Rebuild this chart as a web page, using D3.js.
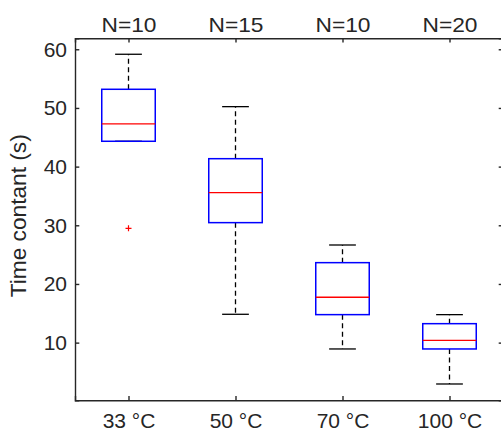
<!DOCTYPE html>
<html>
<head>
<meta charset="utf-8">
<script src="https://cdn.jsdelivr.net/npm/d3@7"></script>
<style>
	body { margin: 0; background: #fff; }
	text { font-family: Arial, "Liberation Sans", sans-serif; fill: #262626; }
</style>
</head>
<body>
<div id="viz-container"></div>
<script>
var categories = ['33 °C', '50 °C', '70 °C', '100 °C'],
	counts = [10, 15, 10, 20],
	whiskerLow = [44.32, 14.83, 8.92, 2.95],
	q1 = [44.32, 30.45, 14.77, 8.92],
	medians = [47.27, 35.56, 17.73, 10.40],
	q3 = [53.18, 41.35, 23.63, 13.23],
	whiskerHigh = [59.15, 50.22, 26.64, 14.77],
	outliers = [[29.49], [], [], []],
	yTicks = [10, 20, 30, 40, 50, 60];

var width = 501,
	height = 431,
	plotLeft = 75, plotRight = 503,
	plotTop = 38.3, plotBottom = 400.3,
	axisColor = '#262626';

var x = d3.scaleLinear().domain([0.5, 4.5]).range([plotLeft, plotRight]);
var y = d3.scaleLinear().domain([0.17, 61.87]).range([plotBottom, plotTop]);

var svg = d3.select('#viz-container')
	.append('svg')
	.attr('width', width)
	.attr('height', height);

var data = categories.map(function(c, i){
	return {name: c, pos: i + 1, n: counts[i], lo: whiskerLow[i], q1: q1[i],
		med: medians[i], q3: q3[i], hi: whiskerHigh[i], out: outliers[i]};
});

// axes box
var axes = svg.append('g');
axes.append('g')
	.attr('transform', 'translate(' + plotLeft + ',0)')
	.call(d3.axisLeft(y).tickValues(yTicks).tickSize(-4.3).tickPadding(8).tickFormat(d3.format('d')));
axes.append('g')
	.attr('transform', 'translate(' + plotRight + ',0)')
	.call(d3.axisRight(y).tickValues(yTicks).tickSize(-4.3).tickFormat(''));
axes.append('g')
	.attr('transform', 'translate(0,' + plotBottom + ')')
	.call(d3.axisBottom(x).tickValues([1, 2, 3, 4]).tickSize(-4.3).tickPadding(13)
		.tickFormat(function(d){ return categories[d - 1]; }));
var topAxis = axes.append('g')
	.attr('transform', 'translate(0,' + plotTop + ')')
	.call(d3.axisTop(x).tickValues([1, 2, 3, 4]).tickSize(-4.3).tickPadding(6)
		.tickFormat(function(d){ return 'N=' + counts[d - 1]; }));

axes.selectAll('.domain, .tick line')
	.attr('stroke', axisColor)
	.attr('stroke-width', 1.4);
axes.selectAll('g').attr('font-size', null).attr('font-family', null);
axes.selectAll('.tick text')
	.attr('fill', axisColor)
	.style('font-size', '21px');
// the N= labels come out a bit wider than plain Arial
topAxis.selectAll('.tick text')
	.attr('textLength', 55)
	.attr('lengthAdjust', 'spacingAndGlyphs');

axes.append('text')
	.attr('transform', 'translate(26,' + ((plotTop + plotBottom) / 2 - 3.5) + ') rotate(-90)')
	.attr('text-anchor', 'middle')
	.attr('textLength', 163)
	.attr('lengthAdjust', 'spacingAndGlyphs')
	.style('font-size', '21.5px')
	.text('Time contant (s)');

var boxes = svg.selectAll('g.box')
	.data(data)
	.enter()
	.append('g')
	.attr('class', 'box');

var boxW = x(1.25) - x(1),
	capW = x(1.125) - x(1);

// whiskers
boxes.append('line')
	.attr('x1', function(d){ return x(d.pos); })
	.attr('x2', function(d){ return x(d.pos); })
	.attr('y1', function(d){ return y(d.q3); })
	.attr('y2', function(d){ return y(d.hi); })
	.attr('stroke', '#000').attr('stroke-width', 1.3).attr('stroke-dasharray', '5,3.5');
boxes.append('line')
	.attr('x1', function(d){ return x(d.pos); })
	.attr('x2', function(d){ return x(d.pos); })
	.attr('y1', function(d){ return y(d.q1); })
	.attr('y2', function(d){ return y(d.lo); })
	.attr('stroke', '#000').attr('stroke-width', 1.3).attr('stroke-dasharray', '5,3.5');
// caps
['hi', 'lo'].forEach(function(k){
	boxes.append('line')
		.attr('x1', function(d){ return x(d.pos) - capW; })
		.attr('x2', function(d){ return x(d.pos) + capW; })
		.attr('y1', function(d){ return y(d[k]); })
		.attr('y2', function(d){ return y(d[k]); })
		.attr('stroke', '#000').attr('stroke-width', 1.3);
});
// box
boxes.append('rect')
	.attr('x', function(d){ return x(d.pos) - boxW; })
	.attr('width', 2 * boxW)
	.attr('y', function(d){ return y(d.q3); })
	.attr('height', function(d){ return y(d.q1) - y(d.q3); })
	.attr('fill', 'none')
	.attr('stroke', '#0000ff')
	.attr('stroke-width', 1.5);
// median
boxes.append('line')
	.attr('x1', function(d){ return x(d.pos) - boxW; })
	.attr('x2', function(d){ return x(d.pos) + boxW; })
	.attr('y1', function(d){ return y(d.med); })
	.attr('y2', function(d){ return y(d.med); })
	.attr('stroke', '#ff0000').attr('stroke-width', 1.3);
// outliers
boxes.selectAll('path.out')
	.data(function(d){ return d.out.map(function(v){ return {pos: d.pos, v: v}; }); })
	.enter()
	.append('path')
	.attr('class', 'out')
	.attr('d', function(d){
		var cx = x(d.pos), cy = y(d.v);
		return 'M' + (cx - 3) + ',' + cy + 'H' + (cx + 3) + 'M' + cx + ',' + (cy - 3) + 'V' + (cy + 3);
	})
	.attr('stroke', '#ff0000').attr('stroke-width', 1.2);
</script>
</body>
</html>
